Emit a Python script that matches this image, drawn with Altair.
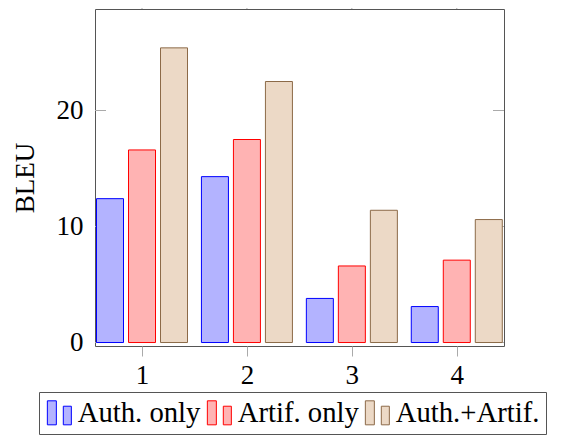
import altair as alt
import pandas as pd

groups = [1, 2, 3, 4]
series = ["Auth. only", "Artif. only", "Auth.+Artif."]
auth_only = [12.4, 14.3, 3.8, 3.1]
artif_only = [16.6, 17.5, 6.6, 7.1]
auth_artif = [25.4, 22.5, 11.4, 10.6]
y_ticks = [0, 10, 20]

fills = ["#b3b3ff", "#ffb3b3", "#ecd9c6"]
strokes = ["#0000ff", "#ff0000", "#8c6a48"]

rows = []
for i, name in enumerate(series):
    vals = [auth_only, artif_only, auth_artif][i]
    for g, v in zip(groups, vals):
        rows.append({"group": g, "series": name, "idx": i, "BLEU": v})
df = pd.DataFrame(rows)

FONT = "Liberation Serif"
xscale = alt.Scale(domain=[0.552, 4.45], nice=False, zero=False, padding=0)
yscale = alt.Scale(domain=[-0.3, 28.75], nice=False, zero=False, padding=0)

legend_path = "M-1,-1H-0.25V1H-1Z M0.33,-0.55H1V1H0.33Z"

bars = alt.Chart(df).transform_calculate(
    pos="datum.group + (datum.idx - 1) * 0.305"
).mark_bar(size=27, strokeWidth=1, opacity=1).encode(
    x=alt.X("pos:Q", scale=xscale,
            axis=alt.Axis(values=groups, format="d", title=None, grid=False,
                          domain=False, tickSize=10, tickColor="#aaaaaa",
                          labelFont=FONT, labelFontSize=27, labelColor="black",
                          labelPadding=6)),
    y=alt.Y("BLEU:Q", scale=yscale,
            axis=alt.Axis(values=y_ticks, title="BLEU", grid=False, domain=False,
                          ticks=False, labelFont=FONT, labelFontSize=27,
                          labelColor="black", labelPadding=12,
                          titleFont=FONT, titleFontSize=27, titleFontWeight="normal",
                          titleColor="black", titlePadding=17)),
    fill=alt.Fill("series:N", scale=alt.Scale(domain=series, range=fills),
                  legend=alt.Legend(title=None)),
    stroke=alt.Stroke("series:N", scale=alt.Scale(domain=series, range=strokes),
                      legend=alt.Legend(title=None)),
)

ytick_df = pd.DataFrame({"v": y_ticks})
left_ticks = alt.Chart(ytick_df).mark_rule(color="#aaaaaa", strokeWidth=1).encode(
    y=alt.Y("v:Q", scale=yscale, axis=None),
    x=alt.value(0), x2=alt.value(11),
)
right_ticks = alt.Chart(ytick_df).mark_rule(color="#aaaaaa", strokeWidth=1).encode(
    y=alt.Y("v:Q", scale=yscale, axis=None),
    x=alt.value(398), x2=alt.value(409),
)
xtick_df = pd.DataFrame({"g": groups})
top_ticks = alt.Chart(xtick_df).mark_rule(color="#aaaaaa", strokeWidth=1).encode(
    x=alt.X("g:Q", scale=xscale, axis=None),
    y=alt.value(-9), y2=alt.value(0),
)

chart = alt.layer(left_ticks, right_ticks, top_ticks, bars).resolve_axis(
    x="independent", y="independent"
).properties(
    width=409, height=337,
    autosize=alt.AutoSizeParams(type="none"),
    padding={"left": 87, "top": 1, "right": 50, "bottom": 89},
).configure_view(
    stroke="#555555", strokeWidth=1
).configure_legend(
    orient="none", legendX=-56, legendY=383, direction="horizontal",
    padding=6, strokeColor="#555555", labelFont=FONT, labelFontSize=28.7,
    labelColor="black", symbolType=legend_path, symbolSize=576,
    symbolStrokeWidth=1, symbolOpacity=1, labelOffset=4, columnPadding=4,
    labelLimit=300,
)

chart.save("out.html", embed_options={"renderer": "svg", "actions": False})
